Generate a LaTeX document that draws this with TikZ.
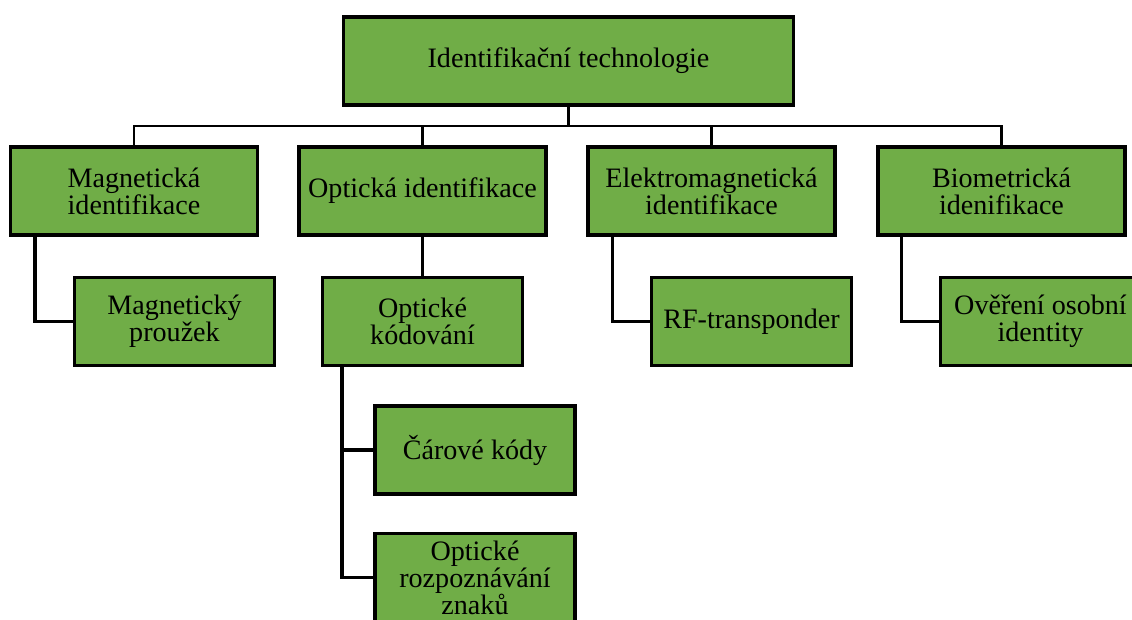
\documentclass[tikz,border=0pt]{standalone}
\usepackage{fontspec}
\setmainfont{Liberation Serif}
\usetikzlibrary{calc}
\definecolor{techgreen}{HTML}{70AD47}

\begin{document}
\begin{tikzpicture}[x=0.02cm, y=-0.02cm]
            \tikzstyle{tech} = [draw=black, line width=2pt, fill=techgreen, rectangle, align=center, inner sep=0pt, minimum width=4.94cm, minimum height=1.76cm, font=\fontsize{16}{15.4}\selectfont]
            \tikzstyle{leaf} = [tech, minimum width=4cm]
            \tikzstyle{link} = [line width=2pt]
            \tikzstyle{bus} = [line width=1.5pt]
            \clip (0, 0) rectangle (1132, 619);
            \node[tech, minimum width=9cm] (root) at (568.5, 61) {Identifikační technologie};
            \node[tech] (mag) at (134, 191) {Magnetická\\identifikace};
            \node[tech] (opt) at (422.5, 191) {Optická identifikace};
            \node[tech] (elm) at (711.5, 191) {Elektromagnetická\\identifikace};
            \node[tech] (bio) at (1001.5, 191) {Biometrická\\idenifikace};
            \node[leaf] (magp) at (174.5, 321.5) {Magnetický\\proužek};
            \node[leaf] (optk) at (422.5, 321.5) {Optické\\kódování};
            \node[leaf] (rf) at (751.5, 321.5) {RF-transponder};
            \node[leaf] (over) at (1040.5, 321.5) {Ověření osobní\\identity};
            \node[leaf] (car) at (475, 450) {Čárové kódy};
            \node[leaf] (ocr) at (475, 577.5) {Optické\\rozpoznávání\\znaků};
            \coordinate (bus) at (568.5, 126);
            \draw[link] (root) -- (bus);
            \draw[bus] (mag.north) |- (bus) -| (bio.north);
            \draw[bus] (opt.north) |- (bus);
            \draw[bus] (elm.north) |- (bus);
            \draw[link] ($(mag.south west)+(26, 0)$) |- (magp.west);
            \draw[link] (opt) -- (optk);
            \draw[link] ($(elm.south west)+(26, 0)$) |- (rf.west);
            \draw[link] ($(bio.south west)+(25, 0)$) |- (over.west);
            \draw[link] ($(optk.south west)+(21, 0)$) |- (car.west);
            \draw[link] ($(optk.south west)+(21, 0)$) |- (ocr.west);
        \end{tikzpicture}
\end{document}
